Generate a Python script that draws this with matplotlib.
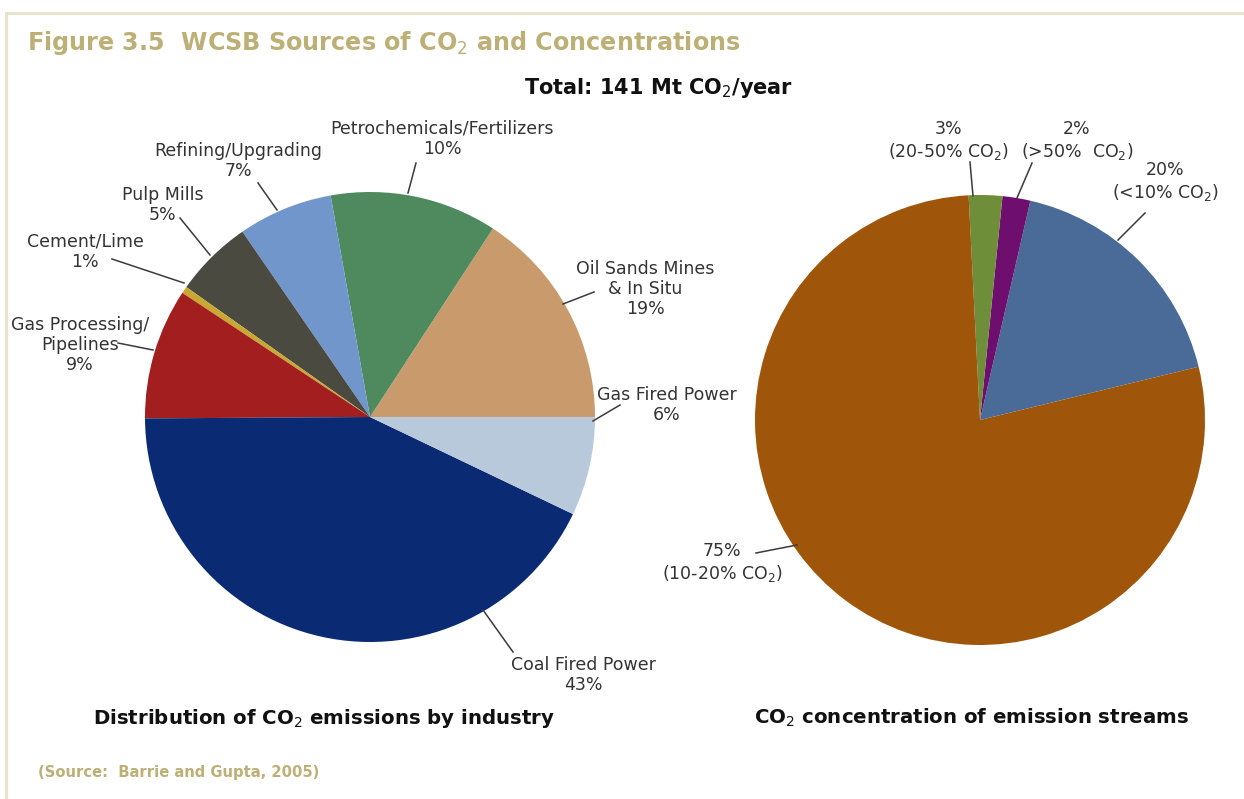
import matplotlib
matplotlib.use("Agg")
import matplotlib.pyplot as plt

# ---------------- data ----------------
# Left pie: distribution of CO2 emissions by industry (slice shares as drawn)
ind_names = ["Oil Sands Mines\n& In Situ", "Petrochemicals/Fertilizers", "Refining/Upgrading",
             "Pulp Mills", "Cement/Lime", "Gas Processing/\nPipelines", "Coal Fired Power",
             "Gas Fired Power"]
ind_pct_labels = ["19%", "10%", "7%", "5%", "1%", "9%", "43%", "6%"]
ind_shares = [15.8, 12.0, 6.8, 5.6, 0.5, 9.4, 42.8, 7.1]
ind_colors = ["#C99A6C", "#4E8A5E", "#7196CC", "#4A4A40", "#C8A832", "#A31F1F",
              "#0A2B74", "#B9C9DC"]

# Right pie: CO2 concentration of emission streams
conc_names = ["(<10% CO$_2$)", "(>50%  CO$_2$)", "(20-50% CO$_2$)", "(10-20% CO$_2$)"]
conc_pct_labels = ["20%", "2%", "3%", "75%"]
conc_shares = [17.6, 2.0, 2.4, 78.0]
conc_colors = ["#4A6A98", "#6E0E6E", "#6E8E3A", "#A0560A"]

W, H = 1244, 799
fig = plt.figure(figsize=(W / 100, H / 100), dpi=100)
ax = fig.add_axes([0, 0, 1, 1])


def Y(y):
    return H - y


ax.pie(ind_shares, colors=ind_colors, startangle=0, counterclock=True,
       center=(370, Y(417)), radius=225, wedgeprops=dict(linewidth=0))
ax.pie(conc_shares, colors=conc_colors, startangle=13.7, counterclock=True,
       center=(980, Y(420)), radius=225, wedgeprops=dict(linewidth=0))

ax.set_xlim(0, W)
ax.set_ylim(0, H)
ax.set_aspect("equal")
ax.axis("off")

# frame lines
border = "#E6E2C8"
ax.plot([6, W], [Y(13), Y(13)], color=border, lw=2.0)
ax.plot([6, 6], [Y(13), 0], color=border, lw=2.0)

lab_font = dict(family=["DejaVu Sans"], fontsize=12.5, color="#333333",
                ha="center", va="center", linespacing=1.15)
line_kw = dict(color="#3a3a3a", lw=1.1)


def leader(p0, p1):
    ax.plot([p0[0], p1[0]], [Y(p0[1]), Y(p1[1])], **line_kw)


# left pie labels: (text, x, y_center, leader start, leader end)
left_lab = [
    (ind_names[0] + "\n" + ind_pct_labels[0], 645, 289, (563, 304), (594, 292)),
    (ind_names[1] + "\n" + ind_pct_labels[1], 442, 139, (408, 193), (416, 163)),
    (ind_names[2] + "\n" + ind_pct_labels[2], 238, 161, (277, 210), (258, 183)),
    (ind_names[3] + "\n" + ind_pct_labels[3], 163, 205, (210, 255), (180, 218)),
    (ind_names[4] + "\n" + ind_pct_labels[4], 85, 252, (184, 283), (112, 259)),
    (ind_names[5] + "\n" + ind_pct_labels[5], 80, 345, (153, 350), (118, 343)),
    (ind_names[6] + "\n" + ind_pct_labels[6], 583, 675, (483, 610), (513, 652)),
    (ind_names[7] + "\n" + ind_pct_labels[7], 667, 405, (593, 421), (620, 405)),
]
for txt, x, y, a, b in left_lab:
    ax.text(x, Y(y), txt, **lab_font)
    leader(a, b)

right_lab = [
    (conc_pct_labels[0] + "\n" + conc_names[0], 1165, 182, (1118, 240), (1145, 213)),
    (conc_pct_labels[1] + "\n" + conc_names[1], 1077, 141, (1017, 198), (1032, 163)),
    (conc_pct_labels[2] + "\n" + conc_names[2], 948, 141, (973, 196), (970, 162)),
    (conc_pct_labels[3] + "\n" + conc_names[3], 722, 563, (797, 545), (756, 553)),
]
for txt, x, y, a, b in right_lab:
    ax.text(x, Y(y), txt, **lab_font)
    leader(a, b)

# titles
khaki = "#BDB077"
ax.text(27, Y(43), "Figure 3.5  WCSB Sources of CO$_2$ and Concentrations",
        family=["DejaVu Sans"], fontweight="bold", fontsize=17.2,
        color=khaki, ha="left", va="center")
ax.text(659, Y(88), "Total: 141 Mt CO$_2$/year", family=["DejaVu Sans"],
        fontweight="bold", fontsize=15, color="#111111", ha="center", va="center")
ax.text(324, Y(718), "Distribution of CO$_2$ emissions by industry", family=["DejaVu Sans"],
        fontweight="bold", fontsize=14.2, color="#111111", ha="center", va="center")
ax.text(971, Y(718), "CO$_2$ concentration of emission streams", family=["DejaVu Sans"],
        fontweight="bold", fontsize=14.2, color="#111111", ha="center", va="center")
ax.text(38, Y(773), "(Source:  Barrie and Gupta, 2005)",
        family=["DejaVu Sans"], fontweight="bold", fontsize=10.6,
        color=khaki, ha="left", va="center")

fig.savefig("out.png", dpi=100)
